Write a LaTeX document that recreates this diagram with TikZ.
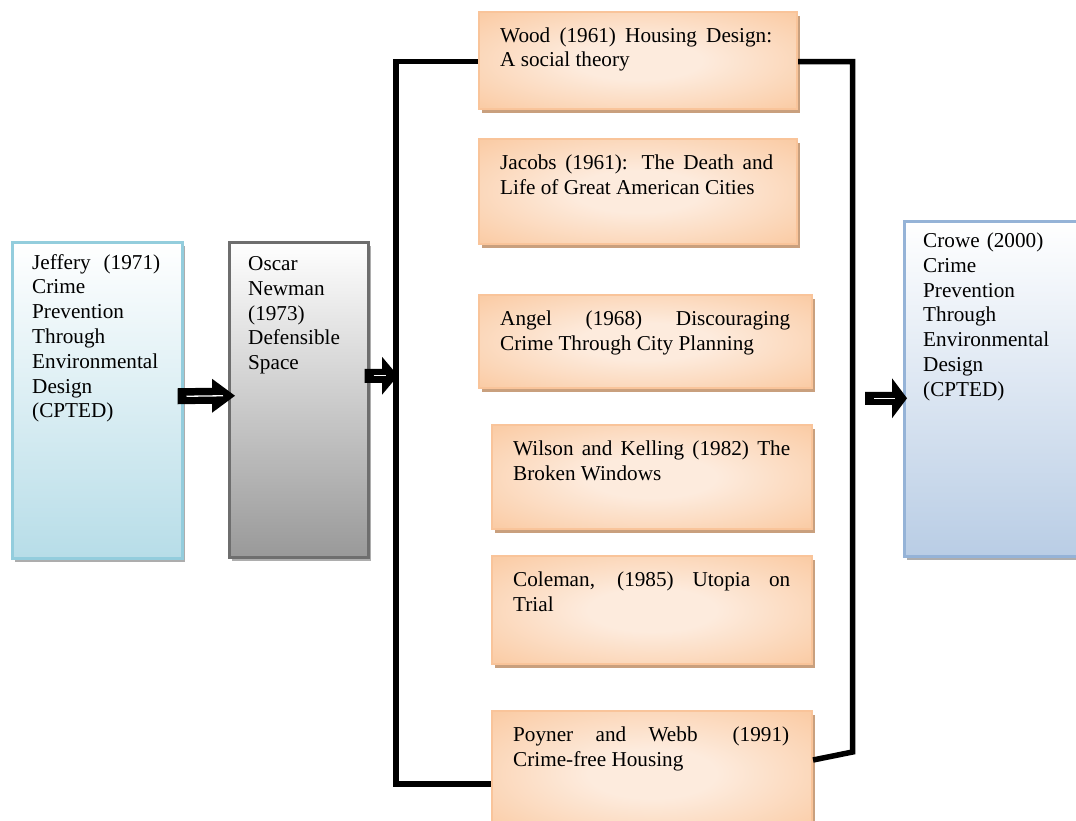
\documentclass[tikz,border=0pt]{standalone}
\usepackage{fontspec}
\setmainfont{Liberation Serif}
\usetikzlibrary{calc,shadows}
\definecolor{orIn}{HTML}{FDEBDD}
\definecolor{orOut}{HTML}{F9BD8B}
\definecolor{orLine}{HTML}{F9C49A}
\definecolor{orShadow}{HTML}{C9A07E}
\definecolor{aquaLine}{HTML}{93CDDD}
\definecolor{aquaBot}{HTML}{B7DDE8}
\definecolor{grayLine}{HTML}{6E6E6E}
\definecolor{grayBot}{HTML}{999999}
\definecolor{blueLine}{HTML}{95B3D7}
\definecolor{blueBot}{HTML}{B9CDE5}
\definecolor{shadowGray}{HTML}{ADADAD}
\pgfdeclareradialshading{orglow}{\pgfpoint{0bp}{0bp}}{color(0bp)=(orIn); color(10bp)=(orIn); color(46bp)=(orOut); color(72bp)=(orOut)}
\hyphenpenalty=10000
\exhyphenpenalty=10000
\newcommand{\blockarrow}[5]{%
  \fill[black] ($(#1)+(0,-#3)$) -- ($(#2)+(-#5,-#3)$) -- ($(#2)+(-#5,-#4)$) -- (#2)
    -- ($(#2)+(-#5,#4)$) -- ($(#2)+(-#5,#3)$) -- ($(#1)+(0,#3)$) -- cycle;
  \draw[white, line width=1.3pt] ($(#1)+(9,0)$) -- ($(#2)+(-12,0)$);}
\begin{document}
\begin{tikzpicture}[x=1pt,y=-1pt,
  boxbase/.style={rectangle, anchor=north west, inner sep=0pt, line width=2.5pt},
  orangebox/.style={boxbase, draw=orLine, line width=2pt, shade, shading=orglow,
     general shadow={fill=orShadow, shadow xshift=3pt, shadow yshift=-4pt}},
  aquabox/.style={boxbase, draw=aquaLine, top color=white, bottom color=aquaBot,
     general shadow={fill=shadowGray, shadow xshift=3pt, shadow yshift=-4pt}},
  graybox/.style={boxbase, draw=grayLine, top color=white, bottom color=grayBot,
     general shadow={fill=shadowGray, shadow xshift=3pt, shadow yshift=-4pt}},
  bluebox/.style={boxbase, draw=blueLine, top color=white, bottom color=blueBot,
     general shadow={fill=shadowGray, shadow xshift=3pt, shadow yshift=-4pt}},
  txt/.style={anchor=north west, inner sep=0pt, font=\fontsize{21.2}{24.8}\selectfont, align=justify},
  ragtxt/.style={txt, align=left},
  bracket/.style={line width=5.5pt, black, line join=miter}
]
\useasboundingbox (0,0) rectangle (1076,820);
\clip (0,0) rectangle (1076,820);
\fill[white] (0,0) rectangle (1076,820);

% left column boxes
\node[aquabox, minimum width=170pt, minimum height=316pt] (jeffery) at (11,241) {};
\node[txt, text width=128pt] (jefferyT) at ($(jeffery.north west)+(21,10.5)$)
  {\strut Jeffery (1971)\linebreak Crime\\Prevention\\Through\\Environmental\\Design\\(CPTED)};

\node[graybox, minimum width=139pt, minimum height=315pt] (oscar) at (228,241) {};
\node[ragtxt, text width=110pt] (oscarT) at ($(oscar.north west)+(20,12)$)
  {\strut Oscar\\Newman\\(1973)\\Defensible\\Space};

% right box
\node[bluebox, minimum width=195pt, minimum height=335pt] (crowe) at (903,220) {};
\node[ragtxt, text width=145pt] (croweT) at ($(crowe.north west)+(20,10)$)
  {\strut Crowe (2000)\\Crime\\Prevention\\Through\\Environmental\\Design\\(CPTED)};

% middle orange boxes
\node[orangebox, minimum width=318pt, minimum height=97pt] (wood) at (478,11) {};
\node[txt, text width=272pt] (woodT) at ($(wood.north west)+(22,13.5)$)
  {\strut Wood (1961) Housing Design:\linebreak A social theory};

\node[orangebox, minimum width=318pt, minimum height=105pt] (jacobs) at (478,138) {};
\node[txt, text width=273pt] (jacobsT) at ($(jacobs.north west)+(22,14)$)
  {\strut Jacobs (1961): The Death and\linebreak Life of Great American Cities};

\node[orangebox, minimum width=333pt, minimum height=93pt] (angel) at (478,294) {};
\node[txt, text width=290pt] (angelT) at ($(angel.north west)+(22,14)$)
  {\strut Angel (1968) Discouraging\linebreak Crime Through City Planning};

\node[orangebox, minimum width=320pt, minimum height=104pt] (wilson) at (491,424) {};
\node[txt, text width=277pt] (wilsonT) at ($(wilson.north west)+(22,14)$)
  {\strut Wilson and Kelling (1982) The\linebreak Broken Windows};

\node[orangebox, minimum width=320pt, minimum height=108pt] (coleman) at (491,555) {};
\node[txt, text width=277pt] (colemanT) at ($(coleman.north west)+(22,14)$)
  {\strut Coleman, (1985) Utopia on\linebreak Trial};

\node[orangebox, minimum width=320pt, minimum height=125pt] (poyner) at (491,710) {};
\node[txt, text width=276pt] (poynerT) at ($(poyner.north west)+(22,14)$)
  {\strut Poyner and Webb\hspace{0.6em} (1991)\linebreak Crime-free Housing};

% bracket lines
\coordinate (lb) at ($(wood.west)+(-82,1)$);
\coordinate (rb) at (852.5,752);
\draw[bracket] ($(wood.west)+(0,1)$) -- (lb) |- ($(poyner.west)+(0,10.5)$);
\draw[bracket] ($(wood.east)+(0,1)$) -| (rb) -- ($(poyner.east)+(0,-13.5)$);

% block arrows
\coordinate (a1s) at ($(jeffery.east)+(-6,-4)$);
\coordinate (a1e) at ($(oscar.west)+(7,-4)$);
\blockarrow{a1s}{a1e}{8}{17}{23}
\coordinate (a2s) at ($(oscar.east)+(-5,-24)$);
\coordinate (a2e) at ($(lb |- oscar.east)+(2,-24)$);
\blockarrow{a2s}{a2e}{7}{19}{16}
\coordinate (a3s) at ($(rb |- crowe.west)+(12.5,9.5)$);
\coordinate (a3e) at ($(crowe.west)+(4,9.5)$);
\blockarrow{a3s}{a3e}{6.5}{20}{15}
\end{tikzpicture}
\end{document}
